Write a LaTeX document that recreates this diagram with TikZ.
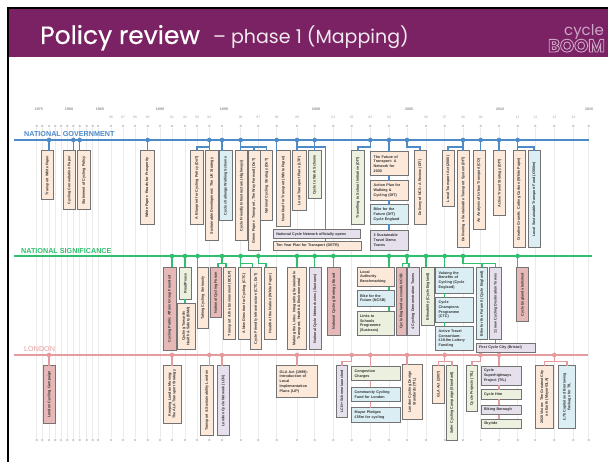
\documentclass[tikz,border=0pt]{standalone}
\usepackage{fontspec}
\setmainfont{Liberation Sans}
\newfontfamily\titlefont{Poppins}
\newfontfamily\titlebold[FakeBold=0.5]{Poppins}
\definecolor{barpurple}{HTML}{7A2263}
\definecolor{logopink}{HTML}{CDA6C8}
\definecolor{govblue}{HTML}{4C8AC8}
\definecolor{natgreen}{HTML}{2FBF6E}
\definecolor{lonred}{HTML}{E59A9C}
\definecolor{peachfill}{HTML}{FDE9D9}
\definecolor{bluefill}{HTML}{DBEEF4}
\definecolor{greenfill}{HTML}{EBF1DE}
\definecolor{purplefill}{HTML}{E5E0EC}
\definecolor{pinkfill}{HTML}{E6B9B8}
\tikzset{
    policy/.style={draw=black!55, line width=1pt, inner sep=1pt, outer sep=0pt, text=black!80,
        font=\fontsize{3.7}{4.7}\selectfont\bfseries, align=center},
    vert/.style n args={4}{policy, rotate=90, anchor=north east, at={(#1,#2)},
        minimum width={(#4-#2)*1pt}, minimum height={(#3-#1)*1pt}},
    horz/.style n args={4}{policy, anchor=north west, at={(#1,#2)}, align=left, inner sep=3pt,
        text width={(#3-#1)*1pt-6pt}, minimum height={(#4-#2)*1pt}},
    peach/.style={fill=peachfill},
    sky/.style={fill=bluefill},
    leaf/.style={fill=greenfill},
    lilac/.style={fill=purplefill},
    rose/.style={fill=pinkfill},
    govline/.style={draw=govblue, line width=1.4pt},
    natline/.style={draw=natgreen, line width=1.4pt},
    lonline/.style={draw=lonred, line width=1.4pt},
    govdot/.style={circle, fill=govblue, inner sep=0pt, minimum size=4.6pt},
    natdot/.style={circle, fill=natgreen, inner sep=0pt, minimum size=4.6pt},
    londot/.style={circle, fill=lonred, inner sep=0pt, minimum size=4.6pt},
    griddot/.style={circle, fill=black!20, inner sep=0pt, minimum size=2.8pt},
    bigyear/.style={text=black!45, font=\fontsize{3.6}{4}\selectfont\bfseries},
    smallyear/.style={text=black!35, font=\fontsize{3.4}{4}\selectfont},
    rowlabel/.style={anchor=west, inner sep=0pt, font=\fontsize{7.2}{8}\selectfont\bfseries}
}
\begin{document}
\begin{tikzpicture}[x=1pt, y=-1pt]
    \useasboundingbox (0,0) rectangle (608,462);
    \fill[black] (7,7) rectangle (608,9);
    \fill[black] (7,7) rectangle (9,462);
    \fill[barpurple] (9,9) rectangle (608,57);
    \node (title) [anchor=base west, text=white, inner sep=0pt, font=\titlebold\fontsize{25}{28}\selectfont] at (40,44) {Policy review};
    \node (subtitle) [anchor=base west, text=white!90!barpurple, inner sep=0pt, font=\titlefont\fontsize{19}{22}\selectfont] at (213,44) {– phase 1 (Mapping)};
    \node (cycle) [anchor=base east, text=logopink, inner sep=0pt, font=\titlefont\fontsize{15}{16}\selectfont] at (604,36) {cycle};
    \node (boom) [anchor=base east, text=logopink, inner sep=0pt, font=\titlefont\bfseries\fontsize{18}{20}\selectfont] at (605,52) {\special{pdf:code q 1 Tr 0.9 w 0.804 0.651 0.784 RG}BOOM\special{pdf:code Q}};

    \foreach \yx [count=\i] in {36.7,42.3,49,55.3,61,67.3,73.3,79.7,86.7,92.7,98,111,123,135,147.7,160,172,185,197,209.3,222,240.7,258.3,276.7,297,314.7,333.3,351.7,370.3,389,407,426,444.7,463,480.7,499,517.7,535.3,554.3,573.3,588.7} {
        \node (top\i) [griddot] at (\yx,126) {};
        \node (bot\i) [griddot] at (\yx,440) {};
        \draw[black!8, line width=1pt] (top\i) -- (bot\i);
    }
    \foreach \yx/\yt in {39/1975,69/1980,100/1985,160/1990,224/1995,316/2000,409/2005,500/2010,589/2015}
        \node (year\yt) [bigyear] at (\yx,109) {\yt};
    \foreach \yx/\yt in {111/86,123/87,135/88,147.7/89,172/91,185/92,197/93,209.3/94,240.7/96,258.3/97,276.7/98,297/99,333.3/01,351.7/02,370.3/03,389/04,426/06,444.7/07,463/08,480.7/09,517.7/11,535.3/12,554.3/13,573.3/14}
        \node (yr\yt) [smallyear] at (\yx,117) {\yt};

    \coordinate (govstart) at (14,140);
    \coordinate (govend) at (589,140);
    \coordinate (natstart) at (14,256);
    \coordinate (natend) at (592,256);
    \coordinate (lonstart) at (14,355);
    \coordinate (lonend) at (588,355);
    \draw[govline] (govstart) -- (govend);
    \draw[natline] (natstart) -- (natend);
    \draw[lonline] (lonstart) -- (lonend);
    \node (govlabel) [rowlabel, text=govblue] at (24,134) {NATIONAL GOVERNMENT};
    \node (natlabel) [rowlabel, text=natgreen] at (21,251) {NATIONAL SIGNIFICANCE};
    \node (lonlabel) [rowlabel, text=lonred, font=\fontsize{7.2}{8}\selectfont] at (24,349) {LONDON};

    \node (twp) [vert={41.3}{151}{53.3}{199.7}, peach] {Transport White Paper};
    \node (ccp) [vert={63.3}{151}{75.7}{209.7}, peach] {Cycling Consultation Paper};
    \node (scp) [vert={77.3}{151}{90.7}{209.7}, peach] {Statement of Cycling Policy};
    \node (wpr) [vert={140.3}{151}{154}{224.3}, peach] {White Paper: Roads for Prosperity};
    \node (blue) [vert={190.7}{151}{203}{224.3}, peach] {A Blueprint for Cycling Policy (DoT)};
    \node (sduk) [vert={205.3}{151}{218.7}{241}, peach] {Sustainable Development: The UK Strategy};
    \node (ccws) [vert={219.3}{151}{232}{221}, sky] {Cycle challenge Walking Scheme};
    \node (cfih) [vert={235.7}{151}{247.7}{241}, peach] {Cycle Friendly Infrastructure (Highways)};
    \node (gptw) [vert={248}{151}{260}{251}, peach] {Green Paper: Transport, The Way Forward (DoT)};
    \node (ncsd) [vert={260.7}{151}{272.7}{221}, peach] {National Cycling Strategy (DoT)};
    \node (ndt) [vert={276.7}{151}{290}{226.7}, peach] {New Deal for Transport (White Paper)};
    \node (ltp) [vert={292.7}{151}{306}{211}, peach] {Local Transport Plans (LTP)};
    \node (ctw) [vert={308.3}{151}{321}{199}, leaf] {Cycle to Work Scheme};
    \node (ncno) [horz={273.3}{229.3}{360}{239}, lilac] {National Cycle Network officially opens};
    \node (typt) [horz={273.3}{241.3}{361}{250.3}, peach] {Ten Year Plan for Transport (DETR)};
    \node (tsi) [vert={351.7}{151}{364}{224.3}, leaf] {Travelling to School Initiative (DfT)};
    \node (fot) [horz={370.7}{151.7}{408}{176}, peach] {The Future of\\Transport: A\\Network for\\2030};
    \node (apwc) [horz={370.7}{180.7}{408}{200.3}, peach] {Action Plan for\\Walking \&\\Cycling (DfT)};
    \node (bff) [horz={370.7}{205}{408}{224.3}, sky] {Bike for the\\Future (DfT)\\Cycle England};
    \node (stdt) [horz={370.7}{230.3}{408}{250.3}, lilac] {3 Sustainable\\Travel Demo\\Towns};
    \node (dncs) [vert={414}{151}{426.3}{224.3}, peach] {Delivery of NCS: A Review (DfT)};
    \node (lta) [vert={442}{151}{454.3}{207}, peach] {Local Transport Act (2000)};
    \node (dsts) [vert={457.3}{151}{469.3}{247.7}, peach] {Delivering a Sustainable Transport System (DfT)};
    \node (auto) [vert={473}{151}{485}{230}, peach] {An Analysis of Urban Transport (CO)};
    \node (ats) [vert={493.7}{151}{505.7}{215.7}, peach] {Active Travel Strategy (DfT)};
    \node (cgcc) [vert={513}{151}{525}{247.7}, peach] {Creative Growth: Cutting Carbon (White Paper)};
    \node (lstf) [vert={528.3}{151}{540}{247.7}, sky] {Local Sustainable Transport Fund (£560m)};

    \node (g77) [govdot] at (49,140) {};
    \node (g81) [govdot] at (73.3,140) {};
    \node (g82) [govdot] at (79.7,140) {};
    \node (g89) [govdot] at (147.7,140) {};
    \node (g94) [govdot] at (209.3,140) {};
    \node (g95) [govdot] at (222,140) {};
    \node (g96) [govdot] at (240.7,140) {};
    \node (g98) [govdot] at (276.7,140) {};
    \node (g99) [govdot] at (297,140) {};
    \node (g00) [govdot] at (314.7,140) {};
    \node (g03) [govdot] at (370.3,140) {};
    \node (g04) [govdot] at (389,140) {};
    \node (g05) [govdot] at (407,140) {};
    \node (g08) [govdot] at (463,140) {};
    \node (g09) [govdot] at (480.7,140) {};
    \node (g10) [govdot] at (499,140) {};
    \node (g11) [govdot] at (517.7,140) {};
    \draw[govline] (g77) -- (g77 |- twp.east);
    \draw[govline] (g81) -- (g81 |- ccp.east);
    \draw[govline] (g82) -- (g82 |- scp.east);
    \draw[govline] (g89) -- (g89 |- wpr.east);
    \draw[govline] (g94) -- (g94 |- sduk.east);
    \draw[govline] (g94) -- ++(0,7) -| (blue.east);
    \draw[govline] (g95) -- (g95 |- ccws.east);
    \draw[govline] (g96) -- (g96 |- cfih.east);
    \draw[govline] (g96) -- ++(0,7) -| (gptw.east);
    \draw[govline] (g96) -- ++(0,7) -| (ncsd.east);
    \draw[govline] (g98) -- (g98 |- ndt.east);
    \draw[govline] (g99) -- (g99 |- ltp.east);
    \draw[govline] (g99) -- ++(0,7) -| (ctw.east);
    \draw[govline] (g00) -- ++(0,7) -| (325.7,229.3);
    \draw[govline] (325.7,239) -- (325.7,241.3);
    \draw[govline] (g03) -- ++(0,7) -| (tsi.east);
    \draw[govline] (g04) -- (g04 |- fot.north);
    \draw[govline] (g04 |- fot.south) -- (g04 |- apwc.north);
    \draw[govline] (g04 |- apwc.south) -- (g04 |- bff.north);
    \draw[govline] (g04 |- bff.south) -- (g04 |- stdt.north);
    \draw[govline] (g05) -- ++(0,7) -| (dncs.east);
    \draw[govline] (g08) -- (g08 |- dsts.east);
    \draw[govline] (g08) -- ++(0,7) -| (lta.east);
    \draw[govline] (g09) -- (g09 |- auto.east);
    \draw[govline] (g10) -- (g10 |- ats.east);
    \draw[govline] (g11) -- (g11 |- cgcc.east);
    \draw[govline] (g11) -- ++(0,7) -| (lstf.east);

    \node (cpag) [vert={163.3}{267.3}{176}{350.7}, rose] {Cycling Public Affairs Group Founded};
    \node (road) [vert={179.3}{267.3}{191.3}{299.3}, leaf] {RoadPeace};
    \node (cths) [vert={177.3}{303.3}{195}{349.3}, peach] {Cycling Towards\\Health \& Safety (BMA)};
    \node (tcs) [vert={197}{267.3}{208.7}{328.7}, peach] {Taking Cycling Seriously};
    \node (ncf) [vert={210.7}{267.3}{221.3}{318}, rose] {National Cycling Forum};
    \node (tebc) [vert={223.7}{267.3}{235.7}{340}, peach] {Transport \& the Environment (BCEP)};
    \node (ndc) [vert={238.3}{267.3}{250}{340}, peach] {A New Direction for Cycling (CTC)};
    \node (cfic) [vert={250}{267.3}{261.7}{350}, peach] {Cycle Friendly Infrastructure (CTC, DoT)};
    \node (hotn) [vert={264.3}{267.3}{276.7}{340}, peach] {Health of the Nation (White Paper)};
    \node (mtl) [vert={287.7}{267.3}{306}{350}, peach] {Making the Links: Integrating Sustainable\\Transport, Health \& Environmental};
    \node (ncnw) [vert={309.3}{267.3}{321}{350}, lilac] {National Cycle Network wins (Sustrans)};
    \node (ncsb) [vert={327.7}{267.3}{340}{335.3}, rose] {National Cycling Strategy Board};
    \node (lab) [horz={357}{267.3}{394.3}{286.7}, peach] {Local\\Authority\\Benchmarking};
    \node (bfn) [horz={357}{290.3}{394.3}{306.7}, sky] {Bike for the\\Future (NCSB)};
    \node (lsp) [horz={357}{311.3}{394.3}{335.7}, leaf] {Links to\\Schools\\Programme\\(Sustrans)};
    \node (cesn) [vert={396}{267.3}{406.7}{335.3}, rose] {Cycle England succeeds NCSB};
    \node (fcdt) [vert={407.3}{267.3}{419}{335.3}, lilac] {4 Cycling Demonstration Towns};
    \node (bike) [vert={421.7}{267.3}{434}{326}, leaf] {Bikeability (Cycle England)};
    \node (vbc) [horz={435.7}{267.3}{473.3}{293.3}, sky] {Valuing the\\Benefits of\\Cycling (Cycle\\England)};
    \node (ccpr) [horz={435.7}{297.3}{473.3}{322.3}, sky] {Cycle\\Champions\\Programme\\(CTC)};
    \node (atc) [horz={435.7}{326.3}{473.3}{351}, sky] {Active Travel\\Consortium:\\£19.9m Lottery\\Funding};
    \node (bfce) [vert={476}{267.3}{487.7}{340}, sky] {Bike for the Future II (Cycle England)};
    \node (ncdt) [vert={489.7}{267.3}{501.7}{340}, lilac] {11 new Cycling Destination Towns};
    \node (fcc) [horz={476}{343.3}{535.7}{351}, lilac] {First Cycle City (Bristol)};
    \node (ceab) [vert={516.7}{267.3}{528.7}{322}, rose] {Cycle England abolished};

    \node (n90) [natdot] at (172,256) {};
    \node (n92) [natdot] at (185,256) {};
    \node (n93) [natdot] at (197.7,256) {};
    \node (n95) [natdot] at (222,256) {};
    \node (n96) [natdot] at (240.7,256) {};
    \node (n97) [natdot] at (258.3,256) {};
    \node (n99) [natdot] at (297,256) {};
    \node (n00) [natdot] at (314.7,256) {};
    \node (n01) [natdot] at (333.3,256) {};
    \node (n04) [natdot] at (389,256) {};
    \node (n05) [natdot] at (407,256) {};
    \node (n06) [natdot] at (426,256) {};
    \node (n07) [natdot] at (444.7,256) {};
    \node (n08) [natdot] at (463,256) {};
    \node (n11) [natdot] at (517.7,256) {};
    \draw[natline] (n90) -- (n90 |- cpag.east);
    \draw[natline] (n92) -- (n92 |- road.east);
    \draw[natline] (n92 |- road.west) -- (n92 |- cths.east);
    \draw[natline] (n93) -- (n93 |- tcs.east);
    \draw[natline] (n95) -- ++(0,7.5) -| (218,267.3);
    \draw[natline] (n95) -- ++(0,7.5) -| (226,267.3);
    \draw[natline] (n96) -- (n96 |- ndc.east);
    \draw[natline] (n96) -- ++(0,7.5) -| (252.7,267.3);
    \draw[natline] (n97) -- ++(0,7.5) -| (266,267.3);
    \draw[natline] (n99) -- (n99 |- mtl.east);
    \draw[natline] (n00) -- (n00 |- ncnw.east);
    \draw[natline] (n01) -- (n01 |- ncsb.east);
    \draw[natline] (n04) -- (n04 |- lab.north);
    \draw[natline] (n04 |- lab.south) -- (n04 |- bfn.north);
    \draw[natline] (n04 |- bfn.south) -- (n04 |- lsp.north);
    \draw[natline] (n05) -- ++(0,7.5) -| (402.7,267.3);
    \draw[natline] (n05) -- ++(0,7.5) -| (409,267.3);
    \draw[natline] (n06) -- (n06 |- bike.east);
    \draw[natline] (n07) -- (n07 |- vbc.north);
    \draw[natline] (n07 |- vbc.south) -- (n07 |- ccpr.north);
    \draw[natline] (n07 |- ccpr.south) -- (n07 |- atc.north);
    \draw[natline] (n08) -- ++(0,7.5) -| (bfce.east);
    \draw[natline] (n08) -- ++(0,7.5) -| (ncdt.east);
    \draw[natline] (ncdt.west) -- (ncdt.west |- fcc.north);
    \draw[natline] (n11) -- (n11 |- ceab.east);

    \node (lcc) [vert={43.3}{365.7}{55.7}{423}, rose] {London Cycling Campaign};
    \node (klm) [vert={163.3}{365.7}{181}{423}, peach] {Keeping London Moving:\\The ALA Transport Strategy};
    \node (tsl) [vert={200.7}{365.7}{213.3}{435.7}, peach] {Transport \& Sustainability London};
    \node (lcn) [vert={217.3}{365.7}{229.3}{435.7}, lilac] {London Cycle Network (LCN)};
    \node (gla) [horz={276.7}{365.7}{317.7}{397.7}, peach] {GLA Act (1999):\\Introduction of\\Local\\Implementation\\Plans (LIP)};
    \node (lcnp) [vert={336}{365.7}{347.7}{417}, lilac] {LCN+ Scheme launched};
    \node (cong) [horz={351.7}{366.7}{400}{381}, leaf] {Congestion\\Charges};
    \node (ccf) [horz={351.7}{387.3}{400}{401.7}, sky] {Community Cycling\\Fund for London};
    \node (mayor) [horz={351.7}{407.7}{400}{422.3}, sky] {Mayor Pledges\\£55m for cycling};
    \node (lcds) [vert={402.3}{365}{422.3}{419}, peach] {London Cycling Design\\Standards (TfL)};
    \node (gla07) [vert={432.7}{365.7}{444.7}{403.3}, peach] {GLA Act (2007)};
    \node (safer) [vert={446.7}{365.7}{457.3}{440}, leaf] {Safer Cycling Campaign (Standard)};
    \node (cpt) [vert={466}{365.7}{477.7}{411}, leaf] {Cycle Projects (TfL)};
    \node (csp) [horz={481}{366.3}{521.7}{384.3}, lilac] {Cycle\\Superhighways\\Project (TfL)};
    \node (hire) [horz={481}{389.7}{521.7}{399.3}, leaf] {Cycle Hire};
    \node (biking) [horz={481}{405.3}{521.7}{414}, lilac] {Biking Borough};
    \node (sky) [horz={481}{419.3}{521.7}{428.3}, leaf] {Skyride};
    \node (vision) [vert={535.7}{365.7}{553.3}{428.3}, peach] {2020 Vision: The Greatest City\\on Earth (Mayor/GLA)};
    \node (pack) [vert={558.3}{365.7}{575.7}{428.3}, sky] {£.7b Capital and Borrowing\\Package for TfL};

    \node (l77) [londot] at (49,355) {};
    \node (l90) [londot] at (172,355) {};
    \node (l94) [londot] at (209.3,355) {};
    \node (l95) [londot] at (222,355) {};
    \node (l99) [londot] at (297,355) {};
    \node (l02) [londot] at (351.7,355) {};
    \node (l03) [londot] at (370.3,355) {};
    \node (l05) [londot] at (407,355) {};
    \node (l07) [londot] at (444.7,355) {};
    \node (l09) [londot] at (480.7,355) {};
    \node (l10) [londot] at (499,355) {};
    \node (l13) [londot] at (554.3,355) {};
    \draw[lonline] (l77) -- (l77 |- lcc.east);
    \draw[lonline] (l90) -- (l90 |- klm.east);
    \draw[lonline] (l94) -- (l94 |- tsl.east);
    \draw[lonline] (l95) -- (l95 |- lcn.east);
    \draw[lonline] (l99) -- (l99 |- gla.north);
    \draw[lonline] (l02) -- ++(0,6.5) -| (lcnp.east);
    \draw[lonline] (l03) -- (l03 |- cong.north);
    \draw[lonline] (l03 |- cong.south) -- (l03 |- ccf.north);
    \draw[lonline] (l03 |- ccf.south) -- (l03 |- mayor.north);
    \draw[lonline] (l05) -- (l05 |- lcds.east);
    \draw[lonline] (l07) -- ++(0,6.5) -| (gla07.east);
    \draw[lonline] (l07) -- ++(0,6.5) -| (safer.east);
    \draw[lonline] (l09) -- ++(0,6.5) -| (cpt.east);
    \draw[lonline] (l10) -- (l10 |- csp.north);
    \draw[lonline] (l10 |- csp.south) -- (l10 |- hire.north);
    \draw[lonline] (l10 |- hire.south) -- (l10 |- biking.north);
    \draw[lonline] (l10 |- biking.south) -- (l10 |- sky.north);
    \draw[lonline] (l13) -- ++(0,6.5) -| (vision.east);
    \draw[lonline] (l13) -- ++(0,6.5) -| (pack.east);
\end{tikzpicture}
\end{document}
